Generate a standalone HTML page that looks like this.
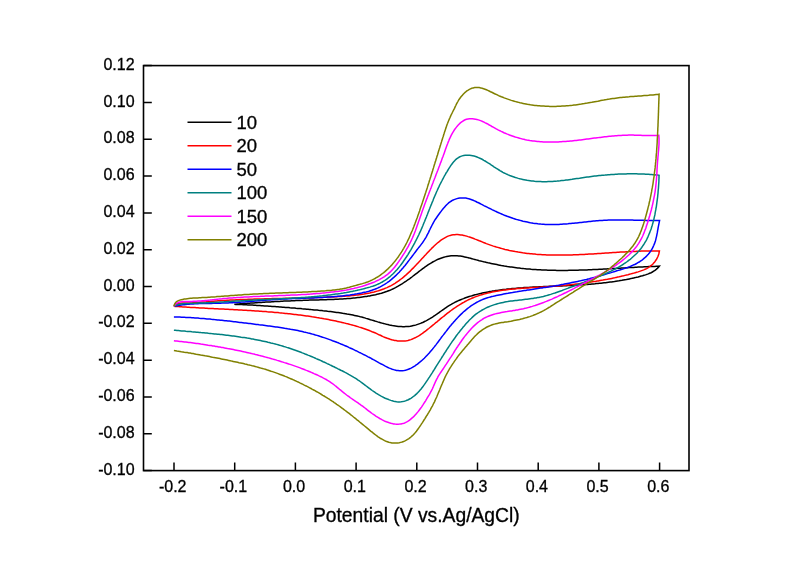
<!DOCTYPE html>
<html><head><meta charset="utf-8"><title>Cyclic voltammetry</title>
<style>html,body{margin:0;padding:0;background:#fff;}svg{display:block;will-change:transform;}</style>
</head><body>
<svg width="800" height="564" viewBox="0 0 800 564">
<rect width="800" height="564" fill="#fff"/>
<g fill="none" stroke-width="1.5" stroke-linejoin="miter" stroke-linecap="butt">
<path stroke="#000000" d="M234.3,304.3 235.8,304.2 237.3,304.1 238.8,304.0 240.3,303.8 241.8,303.7 243.3,303.6 244.8,303.5 246.3,303.4 247.8,303.3 249.3,303.2 250.8,303.1 252.4,303.0 253.9,302.9 255.4,302.8 256.9,302.7 258.4,302.6 259.9,302.5 261.4,302.4 262.9,302.3 264.4,302.2 265.9,302.1 267.4,302.0 268.9,302.0 270.4,301.9 271.9,301.8 273.4,301.7 274.9,301.6 276.4,301.5 277.9,301.5 279.4,301.4 281.0,301.3 282.5,301.2 284.0,301.1 285.5,301.1 287.0,301.0 288.5,300.9 290.0,300.9 291.5,300.8 293.0,300.7 294.5,300.7 296.0,300.6 297.5,300.5 299.0,300.5 300.5,300.4 302.1,300.4 303.6,300.3 305.1,300.3 306.6,300.2 308.1,300.2 309.6,300.1 311.1,300.1 312.6,300.0 314.1,300.0 315.6,300.0 317.1,299.9 318.6,299.9 320.1,299.8 321.6,299.8 323.2,299.8 324.7,299.7 326.2,299.7 327.7,299.6 329.2,299.6 330.7,299.5 332.2,299.5 333.7,299.4 335.2,299.3 336.7,299.3 338.2,299.2 339.7,299.1 341.2,299.0 342.7,298.9 344.2,298.8 345.8,298.7 347.3,298.6 348.8,298.5 350.3,298.4 351.8,298.2 353.3,298.1 354.8,298.0 356.3,297.8 357.8,297.6 359.3,297.4 360.8,297.2 362.3,297.0 363.7,296.8 365.2,296.6 366.7,296.4 368.2,296.1 369.7,295.9 371.2,295.6 372.7,295.3 374.1,295.0 375.6,294.7 377.1,294.3 378.5,293.9 380.0,293.6 381.5,293.2 382.9,292.7 384.3,292.3 385.8,291.8 387.2,291.3 388.6,290.7 390.0,290.2 391.4,289.6 392.7,289.0 394.1,288.3 395.5,287.6 396.8,286.9 398.1,286.2 399.4,285.4 400.7,284.6 402.0,283.9 403.3,283.0 404.5,282.2 405.8,281.4 407.0,280.5 408.2,279.6 409.5,278.8 410.7,277.9 411.9,277.0 413.1,276.0 414.3,275.1 415.5,274.2 416.7,273.3 417.9,272.4 419.1,271.4 420.3,270.5 421.5,269.6 422.7,268.7 423.9,267.8 425.1,266.9 426.3,266.1 427.6,265.2 428.8,264.4 430.1,263.6 431.4,262.8 432.7,262.0 434.0,261.3 435.4,260.6 436.7,259.9 438.1,259.3 439.5,258.7 440.9,258.2 442.3,257.7 443.8,257.3 445.2,256.9 446.7,256.5 448.2,256.2 449.7,256.0 451.1,255.8 452.7,255.7 454.2,255.7 455.7,255.7 457.2,255.8 458.7,255.9 460.2,256.1 461.7,256.3 463.1,256.6 464.6,256.9 466.1,257.2 467.6,257.6 469.0,257.9 470.5,258.3 471.9,258.7 473.4,259.1 474.8,259.5 476.3,259.9 477.8,260.3 479.2,260.7 480.7,261.0 482.1,261.4 483.6,261.8 485.1,262.1 486.5,262.4 488.0,262.8 489.5,263.1 491.0,263.4 492.4,263.7 493.9,264.0 495.4,264.3 496.9,264.6 498.4,264.9 499.8,265.2 501.3,265.5 502.8,265.7 504.3,266.0 505.8,266.2 507.3,266.5 508.8,266.7 510.3,266.9 511.7,267.1 513.2,267.3 514.7,267.5 516.2,267.7 517.7,267.9 519.2,268.1 520.7,268.3 522.2,268.4 523.7,268.6 525.2,268.7 526.7,268.9 528.2,269.0 529.7,269.1 531.2,269.3 532.7,269.4 534.2,269.5 535.7,269.6 537.3,269.7 538.8,269.8 540.3,269.8 541.8,269.9 543.3,270.0 544.8,270.1 546.3,270.1 547.8,270.2 549.3,270.2 550.8,270.2 552.3,270.3 553.8,270.3 555.3,270.3 556.8,270.4 558.4,270.4 559.9,270.4 561.4,270.4 562.9,270.4 564.4,270.4 565.9,270.4 567.4,270.4 568.9,270.3 570.4,270.3 571.9,270.3 573.4,270.3 574.9,270.2 576.4,270.2 578.0,270.2 579.5,270.1 581.0,270.1 582.5,270.0 584.0,270.0 585.5,269.9 587.0,269.9 588.5,269.8 590.0,269.7 591.5,269.7 593.0,269.6 594.5,269.5 596.0,269.5 597.5,269.4 599.1,269.3 600.6,269.2 602.1,269.2 603.6,269.1 605.1,269.0 606.6,268.9 608.1,268.8 609.6,268.8 611.1,268.7 612.6,268.6 614.1,268.5 615.6,268.4 617.1,268.3 618.6,268.2 620.1,268.2 621.6,268.1 623.1,268.0 624.7,267.9 626.2,267.8 627.7,267.7 629.2,267.6 630.7,267.5 632.2,267.5 633.7,267.4 635.2,267.3 636.7,267.2 638.2,267.1 639.7,267.1 641.2,267.0 642.7,266.9 644.2,266.8 645.7,266.8 647.2,266.7 648.8,266.6 650.3,266.5 651.8,266.5 653.3,266.4 654.8,266.4 656.3,266.3 657.8,266.3 659.3,266.2 L659.3,266.2 658.3,267.4 657.3,268.4 656.2,269.4 655.0,270.4 653.7,271.2 652.4,272.0 651.1,272.7 649.7,273.3 648.3,273.9 646.9,274.4 645.5,274.9 644.0,275.3 642.6,275.8 641.1,276.1 639.7,276.5 638.2,276.9 636.7,277.2 635.3,277.6 633.8,277.9 632.3,278.2 630.8,278.6 629.4,278.9 627.9,279.2 626.4,279.5 624.9,279.7 623.4,280.0 621.9,280.3 620.5,280.5 619.0,280.8 617.5,281.0 616.0,281.2 614.5,281.5 613.0,281.7 611.5,281.9 610.0,282.1 608.5,282.3 607.0,282.5 605.5,282.7 604.0,282.8 602.5,283.0 601.0,283.2 599.5,283.3 598.0,283.5 596.5,283.6 595.0,283.8 593.5,283.9 592.0,284.0 590.5,284.2 589.0,284.3 587.5,284.4 586.0,284.5 584.5,284.6 583.0,284.7 581.5,284.8 580.0,284.9 578.5,285.0 576.9,285.1 575.4,285.2 573.9,285.3 572.4,285.4 570.9,285.4 569.4,285.5 567.9,285.6 566.4,285.7 564.9,285.7 563.4,285.8 561.9,285.9 560.4,285.9 558.9,286.0 557.3,286.0 555.8,286.1 554.3,286.2 552.8,286.2 551.3,286.3 549.8,286.3 548.3,286.4 546.8,286.5 545.3,286.5 543.8,286.6 542.3,286.7 540.8,286.7 539.3,286.8 537.7,286.9 536.2,286.9 534.7,287.0 533.2,287.1 531.7,287.2 530.2,287.3 528.7,287.4 527.2,287.5 525.7,287.5 524.2,287.6 522.7,287.8 521.2,287.9 519.7,288.0 518.2,288.1 516.7,288.2 515.2,288.4 513.7,288.5 512.2,288.6 510.6,288.8 509.1,288.9 507.6,289.1 506.1,289.3 504.6,289.4 503.1,289.6 501.7,289.8 500.2,290.0 498.7,290.2 497.2,290.4 495.7,290.6 494.2,290.9 492.7,291.1 491.2,291.4 489.7,291.6 488.2,291.9 486.7,292.2 485.3,292.5 483.8,292.8 482.3,293.1 480.8,293.4 479.4,293.7 477.9,294.1 476.4,294.5 475.0,294.8 473.5,295.2 472.1,295.7 470.6,296.1 469.2,296.5 467.8,297.0 466.3,297.5 464.9,298.0 463.5,298.6 462.1,299.1 460.7,299.7 459.3,300.3 457.9,300.9 456.6,301.5 455.2,302.2 453.9,302.9 452.5,303.6 451.2,304.4 449.9,305.1 448.6,305.9 447.4,306.7 446.1,307.6 444.9,308.4 443.6,309.3 442.4,310.2 441.2,311.0 439.9,311.9 438.7,312.8 437.5,313.7 436.2,314.5 435.0,315.4 433.8,316.2 432.5,317.1 431.2,317.9 429.9,318.7 428.6,319.4 427.3,320.2 426.0,320.9 424.6,321.5 423.3,322.2 421.9,322.8 420.5,323.4 419.1,323.9 417.7,324.4 416.2,324.9 414.8,325.3 413.3,325.6 411.8,325.9 410.3,326.2 408.8,326.4 407.3,326.5 405.8,326.6 404.3,326.7 402.8,326.7 401.3,326.6 399.8,326.5 398.3,326.4 396.8,326.2 395.3,326.0 393.8,325.8 392.3,325.6 390.8,325.3 389.4,325.0 387.9,324.6 386.4,324.3 385.0,323.9 383.5,323.5 382.0,323.1 380.6,322.7 379.1,322.3 377.7,321.9 376.2,321.4 374.8,321.0 373.4,320.5 371.9,320.1 370.5,319.7 369.0,319.2 367.6,318.8 366.1,318.4 364.7,317.9 363.2,317.5 361.8,317.1 360.3,316.8 358.9,316.4 357.4,316.0 355.9,315.7 354.4,315.4 353.0,315.1 351.5,314.8 350.0,314.5 348.5,314.2 347.0,314.0 345.5,313.7 344.0,313.5 342.6,313.3 341.1,313.0 339.6,312.8 338.1,312.6 336.6,312.4 335.1,312.2 333.6,312.0 332.1,311.8 330.6,311.6 329.1,311.4 327.6,311.3 326.1,311.1 324.6,310.9 323.1,310.8 321.6,310.6 320.1,310.4 318.6,310.3 317.1,310.1 315.6,310.0 314.1,309.9 312.6,309.7 311.1,309.6 309.6,309.4 308.1,309.3 306.6,309.2 305.1,309.0 303.6,308.9 302.1,308.8 300.6,308.6 299.1,308.5 297.6,308.4 296.0,308.3 294.5,308.1 293.0,308.0 291.5,307.9 290.0,307.8 288.5,307.6 287.0,307.5 285.5,307.4 284.0,307.3 282.5,307.2 281.0,307.0 279.5,306.9 278.0,306.8 276.5,306.7 275.0,306.6 273.5,306.5 272.0,306.4 270.5,306.3 269.0,306.2 267.5,306.1 265.9,306.0 264.4,305.9 262.9,305.8 261.4,305.7 259.9,305.6 258.4,305.5 256.9,305.4 255.4,305.3 253.9,305.2 252.4,305.1 250.9,305.0 249.4,305.0 247.9,304.9 246.4,304.8 244.9,304.7 243.3,304.7 241.8,304.6 240.3,304.5 238.8,304.5 237.3,304.4 235.8,304.4 234.3,304.3"/>
<path stroke="#ff0000" d="M174.0,306.3 175.1,305.2 176.3,304.4 177.7,303.8 179.1,303.4 180.6,303.2 182.1,303.1 183.6,303.1 185.1,303.1 186.6,303.1 188.2,303.0 189.7,302.9 191.2,302.9 192.7,302.8 194.2,302.7 195.7,302.6 197.2,302.5 198.7,302.4 200.2,302.2 201.7,302.1 203.2,302.0 204.7,301.9 206.2,301.8 207.7,301.6 209.2,301.5 210.7,301.4 212.2,301.3 213.7,301.2 215.2,301.0 216.7,300.9 218.2,300.8 219.7,300.7 221.2,300.6 222.7,300.5 224.2,300.5 225.7,300.4 227.2,300.3 228.7,300.2 230.2,300.1 231.7,300.0 233.2,300.0 234.7,299.9 236.2,299.8 237.7,299.8 239.2,299.7 240.7,299.6 242.2,299.6 243.7,299.5 245.2,299.4 246.7,299.4 248.2,299.3 249.7,299.3 251.2,299.2 252.7,299.2 254.2,299.1 255.7,299.1 257.2,299.0 258.7,299.0 260.2,298.9 261.8,298.9 263.3,298.9 264.8,298.8 266.3,298.8 267.8,298.7 269.3,298.7 270.8,298.7 272.3,298.6 273.8,298.6 275.3,298.6 276.8,298.5 278.3,298.5 279.8,298.5 281.3,298.4 282.8,298.4 284.3,298.4 285.8,298.3 287.3,298.3 288.8,298.3 290.3,298.2 291.8,298.2 293.3,298.2 294.8,298.1 296.3,298.1 297.9,298.1 299.4,298.0 300.9,298.0 302.4,297.9 303.9,297.9 305.4,297.9 306.9,297.8 308.4,297.8 309.9,297.7 311.4,297.7 312.9,297.7 314.4,297.6 315.9,297.6 317.4,297.5 318.9,297.5 320.4,297.4 321.9,297.4 323.4,297.3 324.9,297.2 326.4,297.2 327.9,297.1 329.4,297.1 330.9,297.0 332.4,296.9 333.9,296.9 335.4,296.8 336.9,296.7 338.4,296.6 339.9,296.5 341.5,296.4 343.0,296.3 344.5,296.2 346.0,296.1 347.5,296.0 349.0,295.9 350.4,295.7 351.9,295.6 353.4,295.4 354.9,295.3 356.4,295.1 357.9,294.9 359.4,294.7 360.9,294.5 362.4,294.2 363.9,294.0 365.4,293.7 366.8,293.5 368.3,293.2 369.8,292.9 371.3,292.5 372.7,292.2 374.2,291.9 375.6,291.5 377.1,291.1 378.5,290.7 380.0,290.2 381.4,289.7 382.8,289.2 384.2,288.7 385.6,288.1 387.0,287.6 388.4,286.9 389.7,286.3 391.1,285.6 392.4,284.9 393.7,284.1 395.0,283.3 396.2,282.5 397.5,281.7 398.7,280.8 399.9,279.9 401.1,279.0 402.3,278.1 403.5,277.1 404.6,276.1 405.8,275.2 406.9,274.1 408.0,273.1 409.1,272.1 410.2,271.1 411.2,270.0 412.3,268.9 413.4,267.9 414.4,266.8 415.4,265.7 416.5,264.6 417.5,263.5 418.5,262.4 419.6,261.3 420.6,260.2 421.6,259.1 422.6,258.0 423.6,256.9 424.6,255.8 425.7,254.7 426.7,253.6 427.7,252.5 428.8,251.4 429.8,250.3 430.9,249.2 431.9,248.1 433.0,247.1 434.1,246.0 435.2,245.0 436.3,244.0 437.4,243.0 438.6,242.1 439.8,241.1 441.0,240.2 442.2,239.4 443.5,238.6 444.8,237.8 446.1,237.1 447.4,236.4 448.8,235.9 450.3,235.4 451.7,235.1 453.2,234.8 454.7,234.7 456.2,234.6 457.7,234.6 459.2,234.7 460.7,234.9 462.2,235.1 463.7,235.4 465.2,235.8 466.6,236.1 468.1,236.6 469.5,237.0 470.9,237.5 472.3,238.0 473.7,238.5 475.1,239.1 476.5,239.6 477.9,240.2 479.3,240.8 480.7,241.3 482.1,241.9 483.5,242.5 484.9,243.0 486.3,243.6 487.7,244.1 489.1,244.6 490.5,245.1 492.0,245.6 493.4,246.1 494.8,246.5 496.3,247.0 497.7,247.4 499.2,247.8 500.6,248.2 502.1,248.6 503.5,249.0 505.0,249.4 506.4,249.7 507.9,250.0 509.4,250.4 510.8,250.7 512.3,251.0 513.8,251.3 515.3,251.6 516.8,251.8 518.2,252.1 519.7,252.3 521.2,252.5 522.7,252.8 524.2,253.0 525.7,253.2 527.2,253.4 528.7,253.5 530.2,253.7 531.7,253.8 533.2,254.0 534.7,254.1 536.2,254.3 537.7,254.4 539.2,254.5 540.7,254.6 542.2,254.7 543.7,254.7 545.2,254.8 546.7,254.9 548.2,254.9 549.7,255.0 551.2,255.0 552.7,255.1 554.2,255.1 555.7,255.1 557.2,255.1 558.7,255.1 560.2,255.1 561.7,255.1 563.2,255.1 564.7,255.1 566.2,255.0 567.7,255.0 569.2,255.0 570.7,254.9 572.2,254.9 573.7,254.8 575.2,254.8 576.8,254.7 578.3,254.7 579.8,254.6 581.3,254.5 582.8,254.5 584.3,254.4 585.8,254.3 587.3,254.2 588.8,254.1 590.3,254.1 591.8,254.0 593.3,253.9 594.8,253.8 596.3,253.7 597.8,253.6 599.3,253.5 600.8,253.4 602.3,253.3 603.8,253.2 605.3,253.1 606.8,253.0 608.3,252.9 609.8,252.8 611.3,252.7 612.8,252.6 614.3,252.5 615.8,252.4 617.3,252.3 618.8,252.2 620.3,252.1 621.8,252.1 623.3,252.0 624.8,251.9 626.3,251.8 627.8,251.7 629.3,251.6 630.8,251.6 632.3,251.5 633.8,251.4 635.3,251.4 636.8,251.3 638.3,251.2 639.8,251.2 641.3,251.1 642.9,251.1 644.4,251.1 645.9,251.0 647.4,251.0 648.9,251.0 650.4,251.0 651.9,251.0 653.4,251.0 654.9,251.0 656.4,251.0 657.9,251.0 659.4,251.0 L659.4,251.0 659.1,252.5 658.8,254.0 658.3,255.4 657.8,256.8 657.1,258.2 656.4,259.5 655.6,260.7 654.7,262.0 653.7,263.1 652.7,264.2 651.6,265.2 650.4,266.2 649.2,267.0 647.9,267.9 646.6,268.6 645.2,269.2 643.8,269.9 642.4,270.4 641.0,270.9 639.6,271.4 638.1,271.9 636.7,272.3 635.2,272.7 633.8,273.1 632.3,273.5 630.9,273.9 629.4,274.3 628.0,274.7 626.5,275.0 625.0,275.4 623.6,275.8 622.1,276.1 620.6,276.4 619.2,276.8 617.7,277.1 616.2,277.4 614.7,277.8 613.3,278.1 611.8,278.4 610.3,278.7 608.8,279.0 607.4,279.3 605.9,279.5 604.4,279.8 602.9,280.1 601.4,280.3 599.9,280.6 598.4,280.9 597.0,281.1 595.5,281.4 594.0,281.6 592.5,281.8 591.0,282.0 589.5,282.3 588.0,282.5 586.5,282.7 585.0,282.9 583.5,283.1 582.0,283.3 580.5,283.5 579.0,283.7 577.5,283.9 576.0,284.0 574.5,284.2 573.0,284.4 571.5,284.6 570.0,284.7 568.5,284.9 567.0,285.0 565.5,285.2 564.0,285.3 562.5,285.5 561.0,285.6 559.5,285.7 558.0,285.9 556.5,286.0 555.0,286.1 553.5,286.2 552.0,286.4 550.5,286.5 549.0,286.6 547.5,286.7 546.0,286.8 544.5,286.9 543.0,287.0 541.5,287.1 540.0,287.2 538.5,287.3 537.0,287.4 535.5,287.5 534.0,287.5 532.5,287.6 530.9,287.7 529.4,287.8 527.9,287.9 526.4,288.0 524.9,288.1 523.4,288.2 521.9,288.3 520.4,288.4 518.9,288.5 517.4,288.6 515.9,288.8 514.4,288.9 512.9,289.0 511.4,289.2 509.9,289.3 508.4,289.5 506.9,289.7 505.4,289.9 503.9,290.1 502.4,290.3 500.9,290.5 499.4,290.7 497.9,291.0 496.4,291.2 495.0,291.5 493.5,291.8 492.0,292.1 490.5,292.4 489.1,292.7 487.6,293.1 486.1,293.5 484.7,293.9 483.2,294.3 481.8,294.7 480.3,295.1 478.9,295.6 477.5,296.1 476.0,296.6 474.6,297.1 473.2,297.7 471.8,298.3 470.5,298.9 469.1,299.5 467.7,300.1 466.4,300.8 465.1,301.5 463.7,302.3 462.4,303.0 461.1,303.8 459.8,304.6 458.6,305.4 457.3,306.2 456.0,307.0 454.8,307.9 453.6,308.7 452.3,309.6 451.1,310.5 449.9,311.4 448.7,312.3 447.5,313.2 446.3,314.2 445.1,315.1 444.0,316.1 442.8,317.0 441.6,317.9 440.4,318.9 439.3,319.9 438.1,320.8 437.0,321.8 435.8,322.7 434.6,323.7 433.5,324.7 432.3,325.6 431.1,326.6 430.0,327.5 428.8,328.5 427.6,329.4 426.4,330.4 425.2,331.3 424.0,332.2 422.8,333.1 421.6,334.0 420.3,334.8 419.1,335.6 417.8,336.4 416.4,337.1 415.1,337.8 413.7,338.4 412.4,339.0 410.9,339.6 409.5,340.0 408.0,340.4 406.6,340.7 405.1,340.9 403.6,341.1 402.1,341.1 400.6,341.1 399.0,341.0 397.5,340.9 396.1,340.6 394.6,340.4 393.1,340.1 391.6,339.7 390.2,339.3 388.8,338.8 387.3,338.3 385.9,337.7 384.5,337.2 383.1,336.6 381.8,336.0 380.4,335.3 379.0,334.7 377.7,334.1 376.3,333.4 374.9,332.8 373.5,332.2 372.1,331.7 370.7,331.1 369.3,330.5 367.9,330.0 366.5,329.5 365.1,329.0 363.6,328.5 362.2,328.0 360.8,327.5 359.3,327.1 357.9,326.6 356.5,326.2 355.0,325.8 353.6,325.4 352.1,325.0 350.6,324.6 349.2,324.2 347.7,323.8 346.3,323.5 344.8,323.1 343.3,322.7 341.9,322.4 340.4,322.1 338.9,321.7 337.4,321.4 336.0,321.1 334.5,320.8 333.0,320.5 331.5,320.2 330.1,319.9 328.6,319.6 327.1,319.3 325.6,319.0 324.1,318.8 322.6,318.5 321.2,318.2 319.7,318.0 318.2,317.7 316.7,317.5 315.2,317.2 313.7,317.0 312.2,316.8 310.7,316.5 309.2,316.3 307.8,316.1 306.3,315.9 304.8,315.7 303.3,315.5 301.8,315.3 300.3,315.1 298.8,314.9 297.3,314.7 295.8,314.5 294.3,314.4 292.8,314.2 291.3,314.0 289.8,313.8 288.3,313.7 286.8,313.5 285.3,313.4 283.8,313.2 282.3,313.1 280.8,312.9 279.3,312.8 277.8,312.6 276.3,312.5 274.8,312.4 273.3,312.2 271.8,312.1 270.3,312.0 268.8,311.9 267.3,311.8 265.8,311.6 264.3,311.5 262.8,311.4 261.2,311.3 259.7,311.2 258.2,311.1 256.7,311.0 255.2,310.9 253.7,310.8 252.2,310.7 250.7,310.6 249.2,310.5 247.7,310.4 246.2,310.3 244.7,310.2 243.2,310.2 241.7,310.1 240.2,310.0 238.7,309.9 237.2,309.8 235.7,309.7 234.1,309.7 232.6,309.6 231.1,309.5 229.6,309.4 228.1,309.3 226.6,309.3 225.1,309.2 223.6,309.1 222.1,309.0 220.6,309.0 219.1,308.9 217.6,308.8 216.1,308.7 214.6,308.7 213.1,308.6 211.5,308.5 210.0,308.4 208.5,308.4 207.0,308.3 205.5,308.2 204.0,308.1 202.5,308.0 201.0,308.0 199.5,307.9 198.0,307.8 196.5,307.7 195.0,307.6 193.5,307.5 192.0,307.5 190.5,307.4 189.0,307.3 187.4,307.2 185.9,307.1 184.4,307.0 182.9,306.9 181.4,306.8 179.9,306.7 178.4,306.6 176.9,306.5 175.4,306.4 173.9,306.3"/>
<path stroke="#0000ff" d="M174.0,306.3 175.5,306.0 177.0,305.7 178.4,305.5 179.9,305.2 181.4,305.0 182.9,304.8 184.4,304.7 185.9,304.5 187.4,304.3 188.9,304.2 190.4,304.1 191.9,304.0 193.4,303.9 194.9,303.8 196.4,303.7 197.9,303.7 199.4,303.6 200.9,303.6 202.4,303.5 204.0,303.5 205.5,303.5 207.0,303.4 208.5,303.4 210.0,303.4 211.5,303.4 213.0,303.3 214.5,303.3 216.0,303.3 217.5,303.3 219.0,303.2 220.5,303.2 222.0,303.1 223.5,303.1 225.0,303.0 226.5,303.0 228.0,302.9 229.6,302.8 231.1,302.8 232.6,302.7 234.1,302.6 235.6,302.5 237.1,302.4 238.6,302.3 240.1,302.2 241.6,302.1 243.1,302.0 244.6,301.9 246.1,301.8 247.6,301.7 249.1,301.6 250.6,301.4 252.1,301.3 253.6,301.2 255.1,301.1 256.6,301.0 258.1,300.8 259.6,300.7 261.1,300.6 262.6,300.5 264.1,300.4 265.6,300.2 267.1,300.1 268.6,300.0 270.1,299.9 271.6,299.8 273.1,299.7 274.6,299.6 276.1,299.5 277.6,299.4 279.1,299.3 280.6,299.2 282.1,299.1 283.6,299.0 285.1,299.0 286.7,298.9 288.2,298.8 289.7,298.8 291.2,298.7 292.7,298.6 294.2,298.6 295.7,298.5 297.2,298.5 298.7,298.4 300.2,298.4 301.7,298.3 303.2,298.3 304.7,298.2 306.2,298.1 307.7,298.1 309.2,298.0 310.7,298.0 312.2,297.9 313.7,297.9 315.2,297.8 316.8,297.7 318.3,297.6 319.8,297.6 321.3,297.5 322.8,297.4 324.3,297.3 325.8,297.2 327.3,297.1 328.8,297.0 330.3,296.9 331.8,296.8 333.3,296.7 334.8,296.6 336.3,296.5 337.8,296.3 339.3,296.2 340.8,296.0 342.3,295.9 343.8,295.7 345.3,295.5 346.8,295.3 348.3,295.2 349.8,295.0 351.3,294.7 352.7,294.5 354.2,294.3 355.7,294.0 357.2,293.8 358.7,293.5 360.2,293.2 361.6,293.0 363.1,292.6 364.6,292.3 366.1,292.0 367.5,291.6 369.0,291.2 370.4,290.7 371.8,290.3 373.3,289.8 374.7,289.3 376.1,288.7 377.5,288.1 378.8,287.5 380.2,286.9 381.5,286.2 382.8,285.4 384.1,284.7 385.4,283.9 386.7,283.0 387.9,282.1 389.1,281.3 390.3,280.3 391.5,279.4 392.6,278.4 393.8,277.4 394.9,276.4 396.0,275.4 397.1,274.3 398.1,273.3 399.2,272.2 400.2,271.1 401.2,270.0 402.2,268.8 403.2,267.7 404.1,266.5 405.1,265.4 406.0,264.2 407.0,263.0 407.9,261.8 408.8,260.6 409.7,259.4 410.6,258.2 411.6,257.0 412.5,255.8 413.4,254.6 414.3,253.4 415.2,252.2 416.1,251.0 417.0,249.8 417.9,248.6 418.8,247.4 419.8,246.3 420.7,245.1 421.6,243.9 422.5,242.7 423.4,241.4 424.2,240.2 425.0,238.9 425.8,237.6 426.5,236.3 427.2,234.9 427.9,233.6 428.6,232.3 429.2,230.9 429.9,229.5 430.5,228.2 431.2,226.8 431.9,225.5 432.6,224.2 433.3,222.8 434.0,221.5 434.8,220.2 435.6,219.0 436.5,217.7 437.3,216.5 438.2,215.2 439.1,214.0 440.0,212.8 440.9,211.6 441.8,210.4 442.7,209.2 443.7,208.1 444.7,206.9 445.7,205.8 446.7,204.7 447.8,203.7 448.9,202.7 450.1,201.8 451.4,201.0 452.7,200.2 454.1,199.6 455.5,199.1 456.9,198.6 458.4,198.3 459.9,198.1 461.4,197.9 462.9,197.9 464.4,198.0 465.9,198.1 467.4,198.4 468.8,198.8 470.3,199.2 471.7,199.7 473.1,200.3 474.5,200.9 475.9,201.5 477.2,202.2 478.6,202.8 479.9,203.5 481.2,204.2 482.6,204.9 483.9,205.6 485.3,206.3 486.6,206.9 488.0,207.6 489.3,208.3 490.7,208.9 492.0,209.6 493.4,210.3 494.7,210.9 496.1,211.5 497.5,212.2 498.8,212.8 500.2,213.4 501.6,214.0 503.0,214.6 504.4,215.2 505.8,215.7 507.2,216.3 508.6,216.8 510.0,217.3 511.4,217.8 512.9,218.3 514.3,218.7 515.7,219.2 517.2,219.6 518.6,220.0 520.1,220.4 521.5,220.8 523.0,221.2 524.5,221.5 525.9,221.8 527.4,222.1 528.9,222.4 530.4,222.7 531.9,222.9 533.3,223.2 534.8,223.4 536.3,223.6 537.8,223.8 539.3,223.9 540.8,224.1 542.3,224.2 543.8,224.3 545.3,224.4 546.8,224.5 548.3,224.5 549.8,224.6 551.3,224.6 552.9,224.6 554.4,224.5 555.9,224.5 557.4,224.5 558.9,224.4 560.4,224.3 561.9,224.2 563.4,224.1 564.9,224.0 566.4,223.9 567.9,223.8 569.4,223.6 570.9,223.5 572.4,223.3 573.9,223.2 575.4,223.0 576.9,222.9 578.4,222.7 579.9,222.5 581.4,222.4 582.9,222.2 584.4,222.0 585.9,221.9 587.4,221.7 588.9,221.5 590.4,221.4 591.9,221.2 593.4,221.1 594.9,221.0 596.4,220.8 597.9,220.7 599.4,220.6 600.9,220.5 602.4,220.4 603.9,220.3 605.4,220.3 606.9,220.2 608.4,220.1 609.9,220.1 611.4,220.1 612.9,220.0 614.4,220.0 615.9,220.0 617.4,220.0 618.9,220.0 620.4,220.0 621.9,220.0 623.5,220.0 625.0,220.0 626.5,220.0 628.0,220.1 629.5,220.1 631.0,220.1 632.5,220.1 634.0,220.2 635.5,220.2 637.0,220.2 638.5,220.2 640.0,220.3 641.5,220.3 643.0,220.3 644.5,220.3 646.0,220.4 647.5,220.4 649.1,220.4 650.6,220.4 652.1,220.4 653.6,220.4 655.1,220.4 656.6,220.4 658.1,220.4 659.6,220.4 L659.6,220.4 659.3,221.9 659.0,223.3 658.7,224.8 658.4,226.3 658.1,227.8 657.9,229.3 657.6,230.7 657.4,232.2 657.1,233.7 656.8,235.2 656.5,236.6 656.1,238.1 655.8,239.6 655.4,241.0 654.9,242.5 654.4,243.9 653.8,245.3 653.2,246.6 652.6,248.0 651.8,249.3 651.0,250.6 650.2,251.8 649.3,253.0 648.3,254.2 647.3,255.3 646.3,256.4 645.2,257.4 644.0,258.4 642.9,259.4 641.7,260.3 640.4,261.1 639.2,262.0 637.9,262.7 636.6,263.5 635.3,264.2 633.9,264.8 632.5,265.4 631.2,266.0 629.8,266.6 628.4,267.1 626.9,267.7 625.5,268.1 624.1,268.6 622.7,269.1 621.2,269.5 619.8,270.0 618.3,270.4 616.9,270.8 615.5,271.3 614.0,271.7 612.6,272.1 611.1,272.6 609.7,273.0 608.3,273.4 606.8,273.9 605.4,274.3 603.9,274.7 602.5,275.1 601.0,275.6 599.6,276.0 598.2,276.4 596.7,276.8 595.2,277.2 593.8,277.6 592.3,277.9 590.9,278.3 589.4,278.7 588.0,279.0 586.5,279.4 585.0,279.7 583.6,280.1 582.1,280.4 580.6,280.8 579.2,281.1 577.7,281.4 576.2,281.7 574.8,282.0 573.3,282.3 571.8,282.6 570.3,282.9 568.9,283.2 567.4,283.5 565.9,283.8 564.4,284.1 563.0,284.4 561.5,284.6 560.0,284.9 558.5,285.2 557.0,285.4 555.5,285.7 554.1,285.9 552.6,286.2 551.1,286.4 549.6,286.7 548.1,286.9 546.6,287.2 545.2,287.4 543.7,287.6 542.2,287.9 540.7,288.1 539.2,288.3 537.7,288.6 536.2,288.8 534.8,289.0 533.3,289.2 531.8,289.5 530.3,289.7 528.8,289.9 527.3,290.1 525.8,290.4 524.3,290.6 522.9,290.8 521.4,291.1 519.9,291.3 518.4,291.5 516.9,291.8 515.4,292.0 513.9,292.2 512.5,292.5 511.0,292.7 509.5,293.0 508.0,293.3 506.5,293.5 505.1,293.8 503.6,294.1 502.1,294.4 500.6,294.7 499.1,295.0 497.7,295.3 496.2,295.6 494.7,295.9 493.3,296.3 491.8,296.6 490.4,297.0 488.9,297.4 487.5,297.8 486.0,298.3 484.6,298.8 483.2,299.3 481.8,299.9 480.4,300.5 479.1,301.1 477.7,301.8 476.4,302.5 475.1,303.3 473.8,304.1 472.6,304.9 471.3,305.7 470.1,306.6 468.9,307.5 467.7,308.4 466.5,309.4 465.4,310.3 464.2,311.3 463.1,312.3 462.0,313.4 460.9,314.4 459.9,315.4 458.8,316.5 457.8,317.6 456.7,318.7 455.7,319.8 454.7,320.9 453.7,322.0 452.7,323.2 451.7,324.3 450.8,325.5 449.8,326.6 448.9,327.8 447.9,329.0 447.0,330.2 446.1,331.4 445.2,332.5 444.3,333.7 443.4,334.9 442.4,336.1 441.5,337.3 440.6,338.6 439.7,339.8 438.8,341.0 437.9,342.2 437.0,343.4 436.1,344.6 435.2,345.7 434.3,346.9 433.3,348.1 432.4,349.3 431.4,350.4 430.4,351.6 429.5,352.7 428.5,353.8 427.4,354.9 426.4,356.0 425.4,357.1 424.3,358.2 423.2,359.2 422.1,360.2 421.0,361.2 419.8,362.2 418.6,363.1 417.5,364.1 416.2,364.9 415.0,365.8 413.7,366.6 412.4,367.4 411.1,368.1 409.7,368.7 408.4,369.3 406.9,369.8 405.5,370.2 404.0,370.5 402.5,370.7 401.0,370.8 399.5,370.8 398.0,370.6 396.5,370.4 395.1,370.1 393.6,369.6 392.2,369.2 390.8,368.6 389.4,368.1 388.0,367.5 386.7,366.8 385.3,366.1 384.0,365.4 382.7,364.7 381.3,364.0 380.0,363.3 378.7,362.6 377.4,361.8 376.1,361.1 374.8,360.4 373.4,359.7 372.1,359.0 370.8,358.2 369.5,357.5 368.1,356.8 366.8,356.1 365.5,355.4 364.1,354.8 362.8,354.1 361.4,353.4 360.1,352.7 358.7,352.1 357.4,351.4 356.0,350.7 354.7,350.1 353.3,349.4 352.0,348.8 350.6,348.2 349.2,347.6 347.9,346.9 346.5,346.3 345.1,345.7 343.7,345.1 342.3,344.5 340.9,344.0 339.5,343.4 338.2,342.8 336.8,342.3 335.4,341.7 334.0,341.2 332.5,340.7 331.1,340.1 329.7,339.6 328.3,339.1 326.9,338.6 325.5,338.1 324.0,337.6 322.6,337.2 321.2,336.7 319.7,336.3 318.3,335.8 316.9,335.4 315.4,335.0 314.0,334.5 312.5,334.1 311.1,333.7 309.6,333.3 308.2,333.0 306.7,332.6 305.2,332.2 303.8,331.9 302.3,331.5 300.9,331.2 299.4,330.9 297.9,330.6 296.4,330.3 295.0,330.0 293.5,329.7 292.0,329.4 290.5,329.2 289.0,328.9 287.6,328.7 286.1,328.4 284.6,328.2 283.1,327.9 281.6,327.7 280.1,327.5 278.6,327.3 277.1,327.1 275.7,326.9 274.2,326.7 272.7,326.5 271.2,326.3 269.7,326.1 268.2,325.9 266.7,325.7 265.2,325.5 263.7,325.3 262.2,325.1 260.7,324.9 259.2,324.8 257.8,324.6 256.3,324.4 254.8,324.2 253.3,324.0 251.8,323.8 250.3,323.6 248.8,323.5 247.3,323.3 245.8,323.1 244.3,322.9 242.8,322.7 241.3,322.5 239.8,322.4 238.3,322.2 236.9,322.0 235.4,321.8 233.9,321.7 232.4,321.5 230.9,321.3 229.4,321.1 227.9,321.0 226.4,320.8 224.9,320.7 223.4,320.5 221.9,320.3 220.4,320.2 218.9,320.0 217.4,319.9 215.9,319.7 214.4,319.6 212.9,319.4 211.4,319.3 209.9,319.1 208.4,319.0 206.9,318.9 205.4,318.7 203.9,318.6 202.4,318.5 200.9,318.4 199.4,318.3 197.9,318.1 196.4,318.0 194.9,317.9 193.4,317.8 191.9,317.7 190.4,317.6 188.9,317.5 187.4,317.5 185.9,317.4 184.4,317.3 182.9,317.2 181.4,317.2 179.9,317.1 178.4,317.0 176.9,317.0 175.4,316.9 173.9,316.9"/>
<path stroke="#008080" d="M174.0,306.3 175.3,305.6 176.7,305.0 178.2,304.5 179.6,304.2 181.1,303.9 182.6,303.7 184.1,303.6 185.6,303.5 187.1,303.4 188.6,303.4 190.1,303.3 191.6,303.3 193.1,303.3 194.6,303.2 196.1,303.2 197.6,303.1 199.1,303.1 200.6,303.0 202.2,303.0 203.7,302.9 205.2,302.9 206.7,302.8 208.2,302.7 209.7,302.6 211.2,302.6 212.7,302.5 214.2,302.4 215.7,302.3 217.2,302.3 218.7,302.2 220.2,302.1 221.7,302.0 223.2,301.9 224.7,301.8 226.2,301.7 227.7,301.6 229.2,301.5 230.7,301.4 232.2,301.3 233.7,301.2 235.2,301.1 236.7,301.1 238.3,301.0 239.8,300.9 241.3,300.8 242.8,300.7 244.3,300.6 245.8,300.5 247.3,300.4 248.8,300.3 250.3,300.2 251.8,300.2 253.3,300.1 254.8,300.0 256.3,299.9 257.8,299.8 259.3,299.8 260.8,299.7 262.3,299.6 263.8,299.6 265.3,299.5 266.8,299.4 268.3,299.3 269.8,299.3 271.3,299.2 272.9,299.1 274.4,299.1 275.9,299.0 277.4,298.9 278.9,298.8 280.4,298.8 281.9,298.7 283.4,298.6 284.9,298.5 286.4,298.5 287.9,298.4 289.4,298.3 290.9,298.2 292.4,298.1 293.9,298.1 295.4,298.0 296.9,297.9 298.4,297.8 299.9,297.7 301.4,297.6 302.9,297.5 304.4,297.4 305.9,297.3 307.4,297.2 308.9,297.0 310.4,296.9 311.9,296.8 313.4,296.7 314.9,296.5 316.4,296.4 317.9,296.2 319.4,296.1 320.9,295.9 322.4,295.8 323.9,295.6 325.4,295.5 326.9,295.3 328.4,295.1 329.9,294.9 331.4,294.7 332.9,294.5 334.4,294.3 335.9,294.1 337.4,293.9 338.9,293.7 340.4,293.5 341.9,293.2 343.3,293.0 344.8,292.7 346.3,292.5 347.8,292.2 349.3,291.9 350.8,291.6 352.2,291.4 353.7,291.1 355.2,290.8 356.7,290.4 358.1,290.1 359.6,289.8 361.1,289.4 362.5,289.1 364.0,288.7 365.4,288.3 366.9,287.9 368.3,287.5 369.8,287.1 371.2,286.6 372.7,286.2 374.1,285.7 375.5,285.2 376.9,284.6 378.3,284.0 379.7,283.4 381.0,282.7 382.3,282.0 383.6,281.2 384.9,280.4 386.1,279.6 387.4,278.7 388.5,277.7 389.7,276.8 390.9,275.8 392.0,274.8 393.1,273.8 394.1,272.7 395.2,271.6 396.2,270.5 397.2,269.4 398.2,268.2 399.1,267.1 400.1,265.9 401.0,264.7 401.9,263.5 402.8,262.3 403.6,261.0 404.5,259.8 405.3,258.5 406.2,257.3 407.0,256.0 407.8,254.8 408.6,253.5 409.4,252.2 410.2,250.9 411.0,249.6 411.7,248.3 412.5,247.0 413.2,245.7 413.9,244.4 414.6,243.1 415.3,241.7 416.0,240.4 416.7,239.0 417.4,237.7 418.0,236.3 418.7,235.0 419.3,233.6 420.0,232.2 420.6,230.9 421.2,229.5 421.8,228.1 422.4,226.7 423.0,225.3 423.5,223.9 424.1,222.5 424.7,221.2 425.2,219.8 425.8,218.4 426.4,217.0 426.9,215.6 427.5,214.2 428.0,212.8 428.6,211.4 429.1,210.0 429.7,208.6 430.2,207.2 430.8,205.8 431.4,204.4 431.9,203.0 432.5,201.6 433.1,200.2 433.6,198.8 434.2,197.4 434.8,196.0 435.4,194.6 436.0,193.2 436.6,191.8 437.2,190.5 437.8,189.1 438.5,187.7 439.1,186.4 439.7,185.0 440.4,183.7 441.1,182.3 441.8,181.0 442.5,179.6 443.2,178.3 443.9,177.0 444.6,175.7 445.4,174.3 446.1,173.0 446.9,171.8 447.7,170.5 448.5,169.2 449.3,167.9 450.1,166.7 450.9,165.4 451.8,164.2 452.7,163.0 453.7,161.8 454.7,160.7 455.7,159.6 456.9,158.6 458.1,157.8 459.4,157.0 460.8,156.4 462.2,155.9 463.7,155.5 465.2,155.3 466.7,155.2 468.2,155.2 469.7,155.3 471.2,155.5 472.6,155.8 474.1,156.1 475.6,156.5 477.0,157.0 478.4,157.6 479.8,158.2 481.1,158.8 482.5,159.5 483.8,160.3 485.1,161.0 486.4,161.8 487.6,162.6 488.9,163.4 490.2,164.2 491.4,165.1 492.7,165.9 493.9,166.8 495.2,167.6 496.4,168.4 497.7,169.2 499.0,170.0 500.3,170.8 501.6,171.5 502.9,172.3 504.2,173.0 505.6,173.6 507.0,174.3 508.3,174.9 509.7,175.5 511.1,176.0 512.5,176.5 514.0,177.0 515.4,177.5 516.8,177.9 518.3,178.4 519.7,178.7 521.2,179.1 522.7,179.4 524.1,179.7 525.6,180.0 527.1,180.3 528.6,180.5 530.1,180.7 531.6,180.9 533.1,181.1 534.6,181.3 536.1,181.4 537.6,181.5 539.1,181.6 540.6,181.6 542.1,181.7 543.6,181.7 545.1,181.7 546.6,181.7 548.1,181.6 549.6,181.6 551.1,181.5 552.6,181.4 554.1,181.3 555.6,181.2 557.1,181.1 558.6,180.9 560.1,180.8 561.6,180.6 563.1,180.4 564.6,180.3 566.1,180.1 567.6,179.9 569.1,179.7 570.6,179.5 572.1,179.3 573.6,179.0 575.1,178.8 576.6,178.6 578.1,178.4 579.5,178.2 581.0,177.9 582.5,177.7 584.0,177.5 585.5,177.3 587.0,177.1 588.5,176.9 590.0,176.7 591.5,176.5 593.0,176.3 594.5,176.1 596.0,176.0 597.5,175.8 599.0,175.6 600.5,175.5 602.0,175.3 603.5,175.2 605.0,175.1 606.5,174.9 608.0,174.8 609.5,174.7 611.0,174.6 612.5,174.5 614.0,174.4 615.5,174.3 617.0,174.2 618.5,174.1 620.0,174.1 621.5,174.0 623.0,173.9 624.5,173.9 626.0,173.9 627.5,173.8 629.0,173.8 630.5,173.8 632.0,173.8 633.5,173.8 635.1,173.8 636.6,173.8 638.1,173.9 639.6,173.9 641.1,174.0 642.6,174.0 644.1,174.1 645.6,174.2 647.1,174.2 648.6,174.3 650.1,174.5 651.6,174.6 653.1,174.7 654.6,174.8 656.1,175.0 657.6,175.1 659.1,175.3 L659.1,175.3 659.0,176.8 659.0,178.3 658.9,179.8 658.9,181.3 658.8,182.8 658.7,184.3 658.6,185.8 658.5,187.3 658.4,188.8 658.2,190.3 658.1,191.8 658.0,193.3 657.8,194.8 657.7,196.3 657.5,197.8 657.3,199.3 657.1,200.8 656.9,202.3 656.7,203.8 656.5,205.3 656.3,206.8 656.0,208.2 655.8,209.7 655.5,211.2 655.2,212.7 655.0,214.2 654.7,215.6 654.3,217.1 654.0,218.6 653.7,220.0 653.3,221.5 652.9,223.0 652.5,224.4 652.1,225.8 651.6,227.3 651.2,228.7 650.7,230.1 650.1,231.5 649.6,232.9 649.0,234.3 648.4,235.7 647.8,237.1 647.2,238.4 646.5,239.8 645.8,241.1 645.0,242.4 644.3,243.7 643.4,245.0 642.6,246.2 641.7,247.5 640.8,248.7 639.9,249.8 638.9,251.0 637.9,252.1 636.9,253.2 635.8,254.3 634.7,255.3 633.6,256.3 632.5,257.3 631.4,258.3 630.2,259.3 629.0,260.2 627.8,261.1 626.6,262.0 625.4,262.8 624.1,263.7 622.9,264.5 621.6,265.3 620.3,266.1 619.0,266.9 617.7,267.6 616.4,268.3 615.1,269.0 613.7,269.7 612.4,270.4 611.0,271.1 609.7,271.7 608.3,272.4 606.9,273.0 605.6,273.6 604.2,274.2 602.8,274.8 601.4,275.4 600.0,276.0 598.6,276.6 597.2,277.1 595.8,277.7 594.5,278.2 593.1,278.8 591.6,279.3 590.2,279.9 588.8,280.4 587.4,281.0 586.0,281.5 584.6,282.0 583.2,282.6 581.8,283.1 580.4,283.6 579.0,284.1 577.6,284.7 576.2,285.2 574.8,285.7 573.3,286.2 571.9,286.8 570.5,287.3 569.1,287.8 567.7,288.4 566.3,288.9 564.9,289.4 563.5,289.9 562.1,290.5 560.7,291.0 559.2,291.5 557.8,292.0 556.4,292.5 555.0,293.0 553.6,293.4 552.1,293.9 550.7,294.4 549.2,294.8 547.8,295.2 546.4,295.6 544.9,296.0 543.4,296.4 542.0,296.7 540.5,297.1 539.0,297.4 537.6,297.6 536.1,297.9 534.6,298.1 533.1,298.4 531.6,298.6 530.1,298.8 528.6,299.0 527.1,299.2 525.6,299.3 524.1,299.5 522.6,299.7 521.2,299.9 519.7,300.0 518.2,300.2 516.7,300.4 515.2,300.5 513.7,300.7 512.2,300.9 510.7,301.1 509.2,301.3 507.7,301.6 506.2,301.8 504.8,302.1 503.3,302.4 501.8,302.7 500.3,303.0 498.9,303.4 497.4,303.8 496.0,304.2 494.5,304.6 493.1,305.1 491.7,305.6 490.3,306.1 488.9,306.7 487.5,307.3 486.2,307.9 484.8,308.6 483.5,309.3 482.2,310.0 480.9,310.8 479.6,311.6 478.3,312.5 477.1,313.3 475.9,314.2 474.7,315.2 473.6,316.1 472.5,317.1 471.4,318.2 470.3,319.2 469.2,320.3 468.2,321.4 467.2,322.5 466.2,323.6 465.2,324.7 464.2,325.9 463.2,327.0 462.3,328.2 461.3,329.4 460.4,330.5 459.5,331.7 458.5,332.9 457.6,334.1 456.7,335.3 455.8,336.5 455.0,337.8 454.1,339.0 453.2,340.2 452.3,341.4 451.5,342.7 450.6,343.9 449.8,345.2 449.0,346.4 448.1,347.7 447.3,348.9 446.5,350.2 445.7,351.5 444.9,352.7 444.0,354.0 443.2,355.3 442.4,356.5 441.6,357.8 440.8,359.1 440.0,360.3 439.2,361.6 438.4,362.9 437.6,364.2 436.8,365.4 436.0,366.7 435.2,368.0 434.4,369.3 433.6,370.5 432.8,371.8 432.0,373.1 431.2,374.3 430.4,375.6 429.6,376.9 428.7,378.1 427.9,379.4 427.1,380.6 426.2,381.9 425.4,383.1 424.5,384.4 423.6,385.6 422.8,386.8 421.8,388.0 420.9,389.2 419.9,390.3 418.9,391.4 417.9,392.5 416.8,393.6 415.7,394.6 414.6,395.6 413.4,396.5 412.2,397.4 410.9,398.3 409.6,399.0 408.3,399.7 406.9,400.3 405.5,400.9 404.1,401.3 402.6,401.6 401.1,401.8 399.6,401.9 398.1,401.9 396.6,401.8 395.1,401.5 393.7,401.2 392.2,400.8 390.8,400.4 389.4,399.9 388.0,399.3 386.6,398.8 385.2,398.2 383.8,397.5 382.5,396.8 381.1,396.1 379.8,395.4 378.5,394.7 377.3,393.9 376.0,393.1 374.7,392.2 373.5,391.4 372.2,390.5 371.0,389.6 369.8,388.7 368.6,387.8 367.4,386.9 366.2,386.0 365.0,385.1 363.8,384.2 362.7,383.3 361.4,382.4 360.2,381.5 359.0,380.6 357.7,379.8 356.5,378.9 355.2,378.1 353.9,377.4 352.6,376.6 351.3,375.8 350.0,375.1 348.7,374.4 347.4,373.6 346.1,372.9 344.7,372.2 343.4,371.5 342.1,370.8 340.7,370.2 339.4,369.5 338.0,368.8 336.7,368.1 335.3,367.5 334.0,366.8 332.6,366.2 331.3,365.5 329.9,364.9 328.6,364.2 327.2,363.6 325.8,362.9 324.5,362.3 323.1,361.7 321.7,361.0 320.4,360.4 319.0,359.8 317.6,359.2 316.2,358.6 314.9,358.0 313.5,357.4 312.1,356.8 310.7,356.2 309.3,355.6 307.9,355.1 306.5,354.5 305.1,354.0 303.7,353.4 302.3,352.9 300.9,352.3 299.5,351.8 298.1,351.3 296.7,350.8 295.3,350.3 293.8,349.8 292.4,349.3 291.0,348.8 289.6,348.3 288.1,347.8 286.7,347.4 285.3,346.9 283.8,346.5 282.4,346.0 281.0,345.6 279.5,345.2 278.1,344.8 276.6,344.4 275.2,344.0 273.7,343.6 272.2,343.2 270.8,342.9 269.3,342.5 267.9,342.2 266.4,341.8 264.9,341.5 263.4,341.2 262.0,340.9 260.5,340.6 259.0,340.3 257.6,340.0 256.1,339.7 254.6,339.4 253.1,339.1 251.6,338.9 250.2,338.6 248.7,338.3 247.2,338.1 245.7,337.8 244.2,337.6 242.7,337.4 241.2,337.2 239.8,336.9 238.3,336.7 236.8,336.5 235.3,336.3 233.8,336.1 232.3,335.9 230.8,335.7 229.3,335.5 227.8,335.3 226.3,335.2 224.8,335.0 223.3,334.8 221.8,334.6 220.3,334.5 218.9,334.3 217.4,334.2 215.9,334.0 214.4,333.9 212.9,333.7 211.4,333.6 209.9,333.4 208.4,333.3 206.9,333.1 205.4,333.0 203.9,332.8 202.4,332.7 200.9,332.6 199.4,332.4 197.9,332.3 196.4,332.2 194.9,332.0 193.4,331.9 191.9,331.8 190.4,331.6 188.9,331.5 187.4,331.4 185.9,331.3 184.4,331.1 182.9,331.0 181.4,330.9 179.9,330.7 178.4,330.6 176.9,330.5 175.4,330.3 173.9,330.2"/>
<path stroke="#ff00ff" d="M174.0,306.3 174.8,305.0 175.8,303.9 177.0,303.1 178.4,302.4 179.8,302.0 181.3,301.7 182.8,301.5 184.3,301.4 185.8,301.4 187.3,301.4 188.8,301.4 190.3,301.4 191.8,301.4 193.4,301.3 194.9,301.3 196.4,301.2 197.9,301.1 199.4,301.0 200.9,300.9 202.4,300.8 203.9,300.7 205.4,300.5 206.9,300.4 208.4,300.2 209.9,300.1 211.4,299.9 212.8,299.7 214.3,299.6 215.8,299.4 217.3,299.2 218.8,299.1 220.3,298.9 221.8,298.8 223.3,298.6 224.8,298.5 226.3,298.4 227.8,298.2 229.3,298.1 230.8,298.0 232.3,297.9 233.8,297.8 235.3,297.7 236.8,297.6 238.3,297.5 239.8,297.4 241.3,297.3 242.8,297.2 244.3,297.1 245.8,297.0 247.3,296.9 248.9,296.9 250.4,296.8 251.9,296.7 253.4,296.6 254.9,296.6 256.4,296.5 257.9,296.4 259.4,296.4 260.9,296.3 262.4,296.3 263.9,296.2 265.4,296.1 266.9,296.1 268.4,296.0 269.9,296.0 271.4,295.9 272.9,295.9 274.4,295.8 275.9,295.7 277.4,295.7 278.9,295.6 280.4,295.6 281.9,295.5 283.4,295.5 284.9,295.4 286.5,295.3 288.0,295.3 289.5,295.2 291.0,295.1 292.5,295.1 294.0,295.0 295.5,294.9 297.0,294.9 298.5,294.8 300.0,294.7 301.5,294.6 303.0,294.5 304.5,294.4 306.0,294.4 307.5,294.3 309.0,294.2 310.5,294.1 312.0,293.9 313.5,293.8 315.0,293.7 316.5,293.6 318.0,293.5 319.5,293.4 321.0,293.2 322.5,293.1 324.0,292.9 325.5,292.8 327.0,292.6 328.5,292.5 330.0,292.3 331.5,292.1 333.0,292.0 334.5,291.8 336.0,291.6 337.5,291.4 338.9,291.2 340.4,290.9 341.9,290.7 343.4,290.5 344.9,290.2 346.4,290.0 347.9,289.7 349.3,289.4 350.8,289.1 352.3,288.8 353.7,288.5 355.2,288.1 356.7,287.8 358.1,287.4 359.6,287.0 361.0,286.6 362.5,286.2 363.9,285.7 365.4,285.3 366.8,284.8 368.2,284.3 369.6,283.8 371.0,283.3 372.4,282.7 373.8,282.2 375.2,281.6 376.6,280.9 377.9,280.3 379.3,279.6 380.6,278.9 381.9,278.2 383.2,277.4 384.5,276.6 385.7,275.7 386.9,274.8 388.1,273.9 389.2,272.9 390.3,271.9 391.4,270.8 392.4,269.7 393.4,268.6 394.4,267.4 395.3,266.3 396.3,265.1 397.2,263.8 398.0,262.6 398.9,261.4 399.7,260.1 400.6,258.9 401.4,257.6 402.2,256.4 403.0,255.1 403.8,253.8 404.6,252.6 405.4,251.3 406.2,250.0 406.9,248.7 407.7,247.4 408.4,246.1 409.1,244.7 409.8,243.4 410.5,242.0 411.2,240.7 411.8,239.3 412.4,238.0 413.0,236.6 413.6,235.2 414.2,233.8 414.7,232.4 415.3,231.0 415.8,229.6 416.3,228.2 416.8,226.8 417.3,225.3 417.8,223.9 418.3,222.5 418.8,221.1 419.3,219.7 419.8,218.2 420.3,216.8 420.8,215.4 421.3,214.0 421.8,212.5 422.3,211.1 422.8,209.7 423.3,208.3 423.8,206.9 424.3,205.5 424.8,204.0 425.4,202.6 425.9,201.2 426.4,199.8 427.0,198.4 427.5,197.0 428.0,195.6 428.6,194.2 429.1,192.8 429.6,191.4 430.2,190.0 430.7,188.6 431.3,187.2 431.8,185.8 432.3,184.4 432.9,183.0 433.4,181.5 434.0,180.1 434.5,178.7 435.1,177.3 435.6,175.9 436.1,174.5 436.7,173.1 437.2,171.7 437.8,170.3 438.3,168.9 438.8,167.5 439.4,166.1 439.9,164.7 440.4,163.3 441.0,161.9 441.5,160.5 442.0,159.1 442.5,157.6 443.1,156.2 443.6,154.8 444.1,153.4 444.6,152.0 445.1,150.6 445.6,149.1 446.1,147.7 446.6,146.3 447.1,144.9 447.7,143.5 448.2,142.1 448.8,140.7 449.3,139.3 450.0,137.9 450.6,136.6 451.3,135.2 452.0,133.9 452.7,132.6 453.5,131.3 454.3,130.0 455.2,128.8 456.1,127.6 457.0,126.4 458.0,125.3 459.0,124.2 460.1,123.1 461.3,122.2 462.5,121.3 463.8,120.5 465.1,119.8 466.5,119.3 468.0,119.0 469.5,118.8 471.0,118.7 472.5,118.8 474.0,118.9 475.5,119.2 476.9,119.5 478.4,119.9 479.8,120.4 481.2,120.9 482.6,121.5 484.0,122.1 485.3,122.8 486.7,123.5 488.0,124.2 489.3,125.0 490.6,125.7 491.9,126.5 493.2,127.2 494.5,127.9 495.8,128.7 497.2,129.4 498.5,130.1 499.9,130.7 501.2,131.4 502.6,132.0 503.9,132.7 505.3,133.3 506.7,133.9 508.1,134.4 509.5,135.0 510.9,135.5 512.3,136.0 513.8,136.5 515.2,137.0 516.6,137.4 518.1,137.8 519.5,138.2 521.0,138.6 522.4,139.0 523.9,139.3 525.4,139.7 526.8,140.0 528.3,140.2 529.8,140.5 531.3,140.7 532.8,140.9 534.3,141.1 535.8,141.3 537.3,141.5 538.8,141.6 540.3,141.7 541.8,141.8 543.3,141.9 544.8,142.0 546.3,142.0 547.8,142.0 549.3,142.1 550.8,142.1 552.3,142.0 553.8,142.0 555.3,142.0 556.8,141.9 558.3,141.9 559.8,141.8 561.3,141.7 562.8,141.6 564.3,141.5 565.8,141.4 567.3,141.3 568.8,141.2 570.3,141.0 571.8,140.9 573.3,140.7 574.8,140.5 576.3,140.4 577.8,140.2 579.3,140.0 580.8,139.9 582.3,139.7 583.8,139.5 585.3,139.3 586.8,139.1 588.3,138.9 589.8,138.7 591.3,138.5 592.7,138.3 594.2,138.1 595.7,137.9 597.2,137.7 598.7,137.6 600.2,137.4 601.7,137.2 603.2,137.0 604.7,136.8 606.2,136.7 607.7,136.5 609.2,136.3 610.7,136.2 612.2,136.0 613.7,135.9 615.2,135.8 616.7,135.7 618.2,135.6 619.7,135.5 621.2,135.4 622.7,135.3 624.2,135.2 625.7,135.2 627.2,135.2 628.7,135.1 630.2,135.1 631.7,135.1 633.2,135.1 634.7,135.2 636.2,135.2 637.7,135.2 639.2,135.3 640.7,135.3 642.3,135.4 643.8,135.4 645.3,135.5 646.8,135.5 648.3,135.5 649.8,135.5 651.3,135.5 652.8,135.5 654.3,135.5 655.8,135.5 657.3,135.4 658.8,135.3 L658.8,135.3 658.9,136.8 659.0,138.3 659.0,139.8 659.0,141.3 659.0,142.8 659.0,144.3 658.9,145.8 658.8,147.3 658.7,148.8 658.6,150.3 658.4,151.8 658.3,153.3 658.2,154.8 658.0,156.3 657.9,157.8 657.8,159.3 657.6,160.8 657.5,162.3 657.4,163.8 657.3,165.3 657.2,166.8 657.1,168.3 657.0,169.8 657.0,171.3 656.9,172.8 656.8,174.3 656.7,175.8 656.6,177.3 656.5,178.8 656.4,180.3 656.2,181.8 656.1,183.3 655.9,184.8 655.8,186.3 655.6,187.8 655.4,189.3 655.2,190.8 655.0,192.3 654.7,193.8 654.5,195.3 654.2,196.7 653.9,198.2 653.6,199.7 653.3,201.2 653.0,202.6 652.7,204.1 652.3,205.6 652.0,207.0 651.6,208.5 651.3,210.0 650.9,211.4 650.5,212.9 650.1,214.3 649.7,215.8 649.2,217.2 648.8,218.6 648.4,220.1 647.9,221.5 647.5,223.0 647.0,224.4 646.5,225.8 646.1,227.2 645.6,228.7 645.0,230.1 644.5,231.5 644.0,232.9 643.4,234.3 642.8,235.7 642.2,237.0 641.5,238.4 640.8,239.7 640.1,241.0 639.3,242.3 638.5,243.6 637.6,244.8 636.8,246.1 635.9,247.3 634.9,248.4 634.0,249.6 633.0,250.7 631.9,251.8 630.9,252.9 629.8,254.0 628.8,255.0 627.6,256.0 626.5,257.0 625.4,258.0 624.2,259.0 623.1,259.9 621.9,260.9 620.7,261.8 619.5,262.7 618.2,263.5 617.0,264.4 615.8,265.3 614.5,266.1 613.3,266.9 612.0,267.7 610.7,268.5 609.4,269.3 608.1,270.1 606.9,270.9 605.6,271.6 604.2,272.4 602.9,273.1 601.6,273.8 600.3,274.6 599.0,275.3 597.7,276.0 596.3,276.7 595.0,277.4 593.7,278.1 592.3,278.8 591.0,279.5 589.7,280.2 588.3,280.9 587.0,281.6 585.7,282.3 584.3,283.0 583.0,283.7 581.7,284.4 580.3,285.1 579.0,285.8 577.7,286.5 576.3,287.2 575.0,287.9 573.7,288.6 572.3,289.3 571.0,290.0 569.7,290.6 568.3,291.3 567.0,292.0 565.6,292.7 564.3,293.3 562.9,294.0 561.6,294.6 560.2,295.3 558.8,295.9 557.5,296.6 556.1,297.2 554.7,297.8 553.4,298.4 552.0,299.1 550.6,299.6 549.2,300.2 547.8,300.8 546.4,301.4 545.0,301.9 543.6,302.5 542.2,303.0 540.8,303.5 539.4,304.0 538.0,304.5 536.6,305.0 535.1,305.5 533.7,305.9 532.3,306.4 530.8,306.8 529.4,307.2 527.9,307.6 526.5,308.0 525.0,308.3 523.5,308.7 522.1,309.0 520.6,309.3 519.1,309.6 517.6,309.9 516.1,310.1 514.7,310.4 513.2,310.6 511.7,310.9 510.2,311.1 508.7,311.3 507.2,311.6 505.7,311.8 504.3,312.0 502.8,312.3 501.3,312.6 499.8,312.9 498.4,313.2 496.9,313.5 495.4,313.9 494.0,314.3 492.5,314.7 491.1,315.2 489.7,315.7 488.3,316.3 486.9,316.9 485.6,317.5 484.2,318.2 482.9,319.0 481.7,319.8 480.4,320.6 479.2,321.5 478.0,322.4 476.8,323.4 475.7,324.4 474.6,325.4 473.5,326.4 472.4,327.5 471.4,328.6 470.4,329.7 469.4,330.8 468.4,331.9 467.4,333.1 466.5,334.3 465.5,335.4 464.6,336.6 463.7,337.8 462.8,339.0 461.9,340.3 461.1,341.5 460.2,342.7 459.4,344.0 458.5,345.2 457.7,346.5 456.8,347.7 456.0,349.0 455.2,350.2 454.4,351.5 453.6,352.8 452.8,354.1 452.0,355.3 451.2,356.6 450.3,357.9 449.5,359.1 448.7,360.4 447.9,361.7 447.1,362.9 446.3,364.2 445.4,365.4 444.6,366.7 443.8,367.9 442.9,369.2 442.1,370.4 441.2,371.7 440.4,372.9 439.6,374.2 438.8,375.4 438.0,376.7 437.3,378.1 436.6,379.4 435.9,380.8 435.3,382.1 434.7,383.5 434.1,384.9 433.5,386.3 432.9,387.6 432.3,389.0 431.6,390.4 430.9,391.7 430.2,393.0 429.5,394.3 428.7,395.6 427.9,396.9 427.1,398.2 426.4,399.5 425.6,400.8 424.8,402.0 423.9,403.3 423.1,404.6 422.3,405.8 421.5,407.1 420.6,408.3 419.7,409.5 418.8,410.7 417.9,411.9 416.9,413.1 415.9,414.2 414.9,415.3 413.9,416.4 412.8,417.4 411.6,418.4 410.5,419.4 409.3,420.3 408.1,421.2 406.8,421.9 405.4,422.6 404.0,423.2 402.6,423.6 401.1,423.9 399.6,424.1 398.1,424.2 396.6,424.2 395.1,424.1 393.6,423.9 392.2,423.6 390.7,423.2 389.3,422.8 387.8,422.3 386.4,421.8 385.0,421.2 383.7,420.6 382.3,419.9 381.0,419.2 379.7,418.5 378.4,417.7 377.1,416.9 375.8,416.1 374.6,415.2 373.4,414.4 372.1,413.5 370.9,412.6 369.7,411.7 368.5,410.8 367.3,409.9 366.1,408.9 365.0,408.0 363.8,407.1 362.6,406.2 361.3,405.3 360.1,404.4 358.9,403.6 357.7,402.7 356.4,401.9 355.2,401.0 353.9,400.2 352.7,399.3 351.5,398.5 350.2,397.6 349.0,396.7 347.8,395.8 346.6,395.0 345.4,394.0 344.2,393.1 343.0,392.2 341.8,391.2 340.7,390.2 339.5,389.3 338.4,388.3 337.2,387.4 336.1,386.4 334.9,385.5 333.7,384.5 332.5,383.6 331.3,382.8 330.0,381.9 328.8,381.1 327.5,380.3 326.2,379.5 324.9,378.8 323.5,378.1 322.2,377.4 320.9,376.7 319.5,376.1 318.1,375.4 316.8,374.8 315.4,374.2 314.0,373.6 312.7,373.0 311.3,372.4 309.9,371.8 308.5,371.2 307.1,370.6 305.7,370.1 304.3,369.5 302.9,369.0 301.5,368.5 300.1,367.9 298.7,367.4 297.3,366.9 295.8,366.4 294.4,365.9 293.0,365.4 291.6,364.9 290.1,364.4 288.7,364.0 287.3,363.5 285.9,363.0 284.4,362.6 283.0,362.1 281.6,361.7 280.1,361.2 278.7,360.8 277.2,360.4 275.8,359.9 274.3,359.5 272.9,359.1 271.5,358.7 270.0,358.3 268.6,357.9 267.1,357.5 265.7,357.1 264.2,356.7 262.7,356.3 261.3,355.9 259.8,355.6 258.4,355.2 256.9,354.8 255.4,354.5 254.0,354.1 252.5,353.8 251.1,353.4 249.6,353.1 248.1,352.7 246.7,352.4 245.2,352.1 243.7,351.7 242.3,351.4 240.8,351.1 239.3,350.8 237.8,350.5 236.4,350.2 234.9,349.9 233.4,349.6 231.9,349.3 230.5,349.0 229.0,348.7 227.5,348.5 226.0,348.2 224.5,347.9 223.1,347.6 221.6,347.4 220.1,347.1 218.6,346.9 217.1,346.6 215.6,346.4 214.2,346.1 212.7,345.9 211.2,345.6 209.7,345.4 208.2,345.2 206.7,344.9 205.2,344.7 203.8,344.5 202.3,344.3 200.8,344.1 199.3,343.8 197.8,343.6 196.3,343.4 194.8,343.2 193.3,343.0 191.8,342.8 190.3,342.6 188.8,342.5 187.4,342.3 185.9,342.1 184.4,341.9 182.9,341.7 181.4,341.5 179.9,341.4 178.4,341.2 176.9,341.0 175.4,340.9 173.9,340.7"/>
<path stroke="#808000" d="M174.0,306.3 174.3,304.8 175.0,303.5 175.9,302.3 177.0,301.3 178.4,300.6 179.8,300.1 181.2,299.7 182.7,299.4 184.2,299.1 185.7,298.9 187.2,298.7 188.7,298.5 190.2,298.3 191.7,298.2 193.2,298.1 194.7,298.0 196.2,297.9 197.7,297.9 199.2,297.8 200.7,297.7 202.2,297.6 203.7,297.5 205.2,297.4 206.7,297.4 208.2,297.3 209.7,297.2 211.2,297.1 212.7,297.0 214.2,296.9 215.7,296.8 217.2,296.6 218.7,296.5 220.2,296.4 221.7,296.3 223.2,296.2 224.7,296.1 226.3,296.0 227.8,295.9 229.3,295.7 230.8,295.6 232.3,295.5 233.8,295.4 235.3,295.3 236.8,295.2 238.3,295.1 239.8,295.0 241.3,294.9 242.8,294.7 244.3,294.6 245.8,294.5 247.3,294.5 248.8,294.4 250.3,294.3 251.8,294.2 253.3,294.1 254.8,294.0 256.3,293.9 257.8,293.9 259.3,293.8 260.8,293.7 262.3,293.7 263.8,293.6 265.4,293.5 266.9,293.5 268.4,293.4 269.9,293.3 271.4,293.3 272.9,293.2 274.4,293.2 275.9,293.1 277.4,293.1 278.9,293.0 280.4,293.0 281.9,292.9 283.4,292.8 284.9,292.8 286.4,292.7 287.9,292.7 289.4,292.6 291.0,292.6 292.5,292.5 294.0,292.5 295.5,292.4 297.0,292.3 298.5,292.3 300.0,292.2 301.5,292.2 303.0,292.1 304.5,292.0 306.0,291.9 307.5,291.9 309.0,291.8 310.5,291.7 312.0,291.6 313.5,291.6 315.0,291.5 316.5,291.4 318.0,291.3 319.6,291.2 321.1,291.1 322.6,291.0 324.1,290.9 325.6,290.8 327.1,290.6 328.6,290.5 330.1,290.4 331.6,290.3 333.1,290.1 334.6,290.0 336.1,289.8 337.6,289.6 339.1,289.4 340.5,289.1 342.0,288.9 343.5,288.6 345.0,288.2 346.4,287.9 347.9,287.5 349.4,287.2 350.8,286.8 352.3,286.4 353.7,286.0 355.2,285.6 356.6,285.2 358.1,284.8 359.5,284.4 361.0,284.0 362.4,283.6 363.9,283.1 365.3,282.7 366.7,282.2 368.2,281.7 369.6,281.1 370.9,280.5 372.3,279.9 373.7,279.2 375.0,278.5 376.3,277.7 377.6,277.0 378.9,276.2 380.1,275.3 381.3,274.4 382.5,273.5 383.7,272.6 384.9,271.6 386.0,270.6 387.1,269.6 388.2,268.6 389.3,267.5 390.3,266.5 391.4,265.4 392.4,264.2 393.4,263.1 394.3,261.9 395.3,260.8 396.2,259.6 397.1,258.4 398.0,257.2 398.9,255.9 399.7,254.7 400.6,253.4 401.4,252.2 402.2,250.9 402.9,249.6 403.7,248.3 404.4,247.0 405.2,245.7 405.9,244.3 406.6,243.0 407.3,241.6 407.9,240.3 408.6,238.9 409.2,237.6 409.8,236.2 410.4,234.8 411.0,233.4 411.6,232.0 412.2,230.7 412.8,229.3 413.3,227.9 413.9,226.5 414.4,225.1 415.0,223.6 415.5,222.2 416.0,220.8 416.5,219.4 417.1,218.0 417.6,216.6 418.1,215.1 418.6,213.7 419.1,212.3 419.6,210.9 420.0,209.5 420.5,208.0 421.0,206.6 421.5,205.2 422.0,203.8 422.5,202.3 422.9,200.9 423.4,199.5 423.9,198.0 424.4,196.6 424.8,195.2 425.3,193.7 425.8,192.3 426.2,190.9 426.7,189.4 427.2,188.0 427.6,186.6 428.1,185.1 428.5,183.7 429.0,182.3 429.4,180.8 429.9,179.4 430.3,177.9 430.8,176.5 431.2,175.1 431.7,173.6 432.1,172.2 432.6,170.7 433.0,169.3 433.5,167.9 433.9,166.4 434.3,165.0 434.8,163.5 435.2,162.1 435.7,160.7 436.1,159.2 436.6,157.8 437.0,156.3 437.5,154.9 437.9,153.5 438.3,152.0 438.8,150.6 439.2,149.1 439.7,147.7 440.1,146.3 440.6,144.8 441.0,143.4 441.5,141.9 441.9,140.5 442.4,139.1 442.8,137.6 443.3,136.2 443.7,134.8 444.2,133.3 444.6,131.9 445.1,130.5 445.6,129.0 446.1,127.6 446.5,126.2 447.0,124.7 447.6,123.3 448.1,121.9 448.7,120.5 449.3,119.1 449.9,117.8 450.5,116.4 451.1,115.0 451.8,113.7 452.5,112.3 453.1,111.0 453.8,109.6 454.5,108.3 455.1,106.9 455.8,105.5 456.4,104.2 457.1,102.9 457.9,101.5 458.6,100.2 459.4,99.0 460.3,97.7 461.2,96.5 462.2,95.4 463.2,94.3 464.2,93.2 465.4,92.2 466.5,91.2 467.8,90.4 469.0,89.6 470.4,88.9 471.8,88.3 473.2,87.9 474.7,87.6 476.2,87.4 477.7,87.4 479.2,87.6 480.7,87.9 482.1,88.3 483.6,88.7 485.0,89.2 486.4,89.8 487.8,90.4 489.1,91.0 490.5,91.7 491.8,92.3 493.2,93.0 494.6,93.7 495.9,94.3 497.3,94.9 498.6,95.6 500.0,96.2 501.4,96.8 502.8,97.3 504.2,97.9 505.6,98.4 507.0,98.9 508.5,99.4 509.9,99.9 511.3,100.4 512.8,100.8 514.2,101.2 515.7,101.6 517.1,102.0 518.6,102.4 520.0,102.8 521.5,103.1 523.0,103.4 524.5,103.7 525.9,104.0 527.4,104.3 528.9,104.5 530.4,104.8 531.9,105.0 533.4,105.2 534.9,105.4 536.4,105.5 537.9,105.7 539.4,105.8 540.9,105.9 542.4,106.1 543.9,106.1 545.4,106.2 546.9,106.3 548.4,106.3 549.9,106.4 551.4,106.4 552.9,106.4 554.4,106.4 555.9,106.4 557.4,106.3 558.9,106.3 560.5,106.2 562.0,106.1 563.5,106.0 565.0,105.9 566.5,105.8 568.0,105.7 569.5,105.6 571.0,105.4 572.5,105.3 574.0,105.1 575.5,104.9 577.0,104.7 578.4,104.5 579.9,104.3 581.4,104.1 582.9,103.8 584.4,103.6 585.9,103.3 587.4,103.1 588.9,102.8 590.3,102.5 591.8,102.3 593.3,102.0 594.8,101.7 596.3,101.4 597.8,101.2 599.2,100.9 600.7,100.6 602.2,100.3 603.7,100.1 605.2,99.8 606.6,99.6 608.1,99.3 609.6,99.1 611.1,98.8 612.6,98.6 614.1,98.4 615.6,98.2 617.1,98.0 618.6,97.8 620.1,97.6 621.6,97.5 623.1,97.3 624.6,97.2 626.1,97.0 627.6,96.9 629.1,96.8 630.6,96.6 632.1,96.5 633.6,96.4 635.1,96.3 636.6,96.2 638.1,96.1 639.6,96.0 641.1,95.9 642.6,95.7 644.1,95.6 645.6,95.5 647.1,95.4 648.6,95.3 650.1,95.1 651.6,95.0 653.1,94.9 654.6,94.7 656.1,94.5 657.6,94.4 659.1,94.2 L659.1,94.2 659.0,95.7 659.0,97.2 658.9,98.7 658.9,100.2 658.8,101.7 658.8,103.2 658.7,104.7 658.7,106.2 658.6,107.7 658.6,109.2 658.5,110.8 658.5,112.3 658.4,113.8 658.4,115.3 658.3,116.8 658.3,118.3 658.2,119.8 658.1,121.3 658.1,122.8 658.0,124.3 658.0,125.8 657.9,127.3 657.8,128.8 657.8,130.3 657.7,131.8 657.6,133.3 657.6,134.8 657.5,136.3 657.4,137.8 657.3,139.3 657.2,140.8 657.2,142.3 657.1,143.9 657.0,145.4 656.9,146.9 656.8,148.4 656.7,149.9 656.6,151.4 656.5,152.9 656.3,154.4 656.2,155.9 656.1,157.4 656.0,158.9 655.8,160.4 655.7,161.9 655.5,163.4 655.4,164.9 655.2,166.4 655.1,167.9 654.9,169.4 654.7,170.9 654.5,172.3 654.3,173.8 654.2,175.3 654.0,176.8 653.7,178.3 653.5,179.8 653.3,181.3 653.1,182.8 652.9,184.3 652.6,185.8 652.4,187.2 652.1,188.7 651.8,190.2 651.6,191.7 651.3,193.2 651.0,194.6 650.7,196.1 650.4,197.6 650.1,199.1 649.8,200.5 649.4,202.0 649.1,203.5 648.8,205.0 648.4,206.4 648.0,207.9 647.7,209.3 647.3,210.8 646.9,212.3 646.5,213.7 646.1,215.2 645.7,216.6 645.3,218.1 644.9,219.5 644.5,220.9 644.0,222.4 643.6,223.8 643.1,225.3 642.6,226.7 642.1,228.1 641.6,229.5 641.1,230.9 640.5,232.3 640.0,233.7 639.3,235.1 638.7,236.5 638.0,237.8 637.3,239.1 636.6,240.4 635.8,241.7 635.0,243.0 634.1,244.2 633.3,245.5 632.3,246.7 631.4,247.8 630.4,249.0 629.5,250.1 628.5,251.3 627.4,252.4 626.4,253.4 625.3,254.5 624.3,255.6 623.2,256.6 622.1,257.7 621.0,258.7 619.9,259.7 618.7,260.7 617.6,261.7 616.5,262.7 615.4,263.7 614.2,264.7 613.1,265.7 611.9,266.6 610.8,267.6 609.6,268.5 608.4,269.5 607.2,270.4 606.0,271.3 604.8,272.2 603.6,273.0 602.3,273.9 601.1,274.8 599.8,275.6 598.6,276.4 597.3,277.2 596.0,278.0 594.8,278.8 593.5,279.6 592.2,280.4 590.9,281.2 589.6,282.0 588.3,282.8 587.1,283.6 585.8,284.3 584.5,285.1 583.2,285.9 581.9,286.7 580.6,287.5 579.4,288.3 578.1,289.1 576.8,289.9 575.5,290.7 574.2,291.5 573.0,292.3 571.7,293.1 570.4,293.9 569.1,294.7 567.9,295.5 566.6,296.3 565.3,297.1 564.0,297.9 562.8,298.7 561.5,299.5 560.2,300.3 559.0,301.1 557.7,301.9 556.4,302.7 555.1,303.5 553.9,304.3 552.6,305.2 551.3,306.0 550.1,306.8 548.8,307.5 547.5,308.3 546.2,309.1 544.9,309.8 543.6,310.6 542.2,311.3 540.9,312.0 539.5,312.6 538.2,313.3 536.8,313.9 535.4,314.5 534.0,315.0 532.6,315.6 531.2,316.1 529.8,316.6 528.3,317.0 526.9,317.5 525.5,317.9 524.0,318.3 522.5,318.7 521.1,319.0 519.6,319.4 518.2,319.7 516.7,320.0 515.2,320.3 513.7,320.6 512.2,320.9 510.8,321.2 509.3,321.4 507.8,321.7 506.3,321.9 504.8,322.1 503.3,322.4 501.8,322.6 500.4,322.8 498.9,323.1 497.4,323.4 495.9,323.7 494.5,324.1 493.0,324.5 491.6,325.0 490.2,325.6 488.8,326.2 487.5,326.8 486.1,327.5 484.8,328.3 483.5,329.1 482.3,329.9 481.1,330.8 479.9,331.7 478.7,332.7 477.6,333.6 476.5,334.7 475.4,335.7 474.4,336.8 473.4,337.9 472.4,339.1 471.4,340.2 470.4,341.4 469.5,342.5 468.5,343.7 467.5,344.8 466.6,346.0 465.6,347.1 464.6,348.3 463.6,349.4 462.6,350.6 461.7,351.7 460.7,352.9 459.8,354.1 458.8,355.3 457.9,356.4 457.0,357.7 456.2,358.9 455.3,360.1 454.4,361.3 453.6,362.6 452.7,363.8 451.9,365.1 451.1,366.4 450.3,367.6 449.5,368.9 448.8,370.2 448.0,371.5 447.3,372.9 446.6,374.2 445.9,375.5 445.2,376.9 444.6,378.2 444.0,379.6 443.4,381.0 442.8,382.4 442.2,383.8 441.6,385.1 441.0,386.5 440.4,387.9 439.9,389.3 439.3,390.7 438.7,392.1 438.1,393.5 437.5,394.9 437.0,396.3 436.4,397.6 435.7,399.0 435.1,400.4 434.5,401.8 433.8,403.1 433.1,404.5 432.5,405.8 431.7,407.1 431.0,408.4 430.3,409.8 429.5,411.1 428.8,412.4 428.0,413.7 427.2,415.0 426.4,416.2 425.6,417.5 424.8,418.8 424.0,420.0 423.2,421.3 422.4,422.6 421.5,423.8 420.7,425.1 419.9,426.3 419.0,427.6 418.2,428.8 417.3,430.0 416.4,431.2 415.4,432.4 414.5,433.6 413.4,434.7 412.4,435.7 411.2,436.7 410.1,437.7 408.9,438.6 407.6,439.4 406.3,440.2 405.0,440.9 403.6,441.5 402.2,442.0 400.7,442.4 399.3,442.8 397.8,443.0 396.3,443.1 394.8,443.1 393.3,443.0 391.8,442.9 390.3,442.6 388.8,442.2 387.4,441.7 386.0,441.2 384.6,440.6 383.3,439.9 382.0,439.2 380.7,438.5 379.4,437.6 378.1,436.8 376.9,435.9 375.7,435.0 374.5,434.1 373.3,433.2 372.2,432.2 371.0,431.3 369.8,430.3 368.7,429.4 367.5,428.4 366.3,427.4 365.2,426.5 364.0,425.5 362.9,424.6 361.7,423.6 360.5,422.7 359.4,421.7 358.2,420.7 357.0,419.8 355.9,418.8 354.7,417.9 353.5,417.0 352.4,416.0 351.2,415.1 350.0,414.1 348.8,413.2 347.6,412.3 346.4,411.4 345.2,410.5 344.0,409.6 342.8,408.7 341.6,407.8 340.4,406.9 339.2,406.0 337.9,405.1 336.7,404.3 335.5,403.4 334.2,402.6 333.0,401.7 331.7,400.9 330.5,400.1 329.2,399.2 327.9,398.4 326.7,397.6 325.4,396.8 324.1,396.0 322.8,395.3 321.5,394.5 320.2,393.7 318.9,392.9 317.6,392.2 316.3,391.5 315.0,390.7 313.7,390.0 312.4,389.3 311.0,388.5 309.7,387.8 308.4,387.1 307.0,386.4 305.7,385.8 304.3,385.1 303.0,384.4 301.6,383.7 300.3,383.1 298.9,382.4 297.6,381.8 296.2,381.1 294.8,380.5 293.5,379.9 292.1,379.3 290.7,378.7 289.3,378.1 287.9,377.5 286.6,376.9 285.2,376.4 283.8,375.8 282.4,375.2 281.0,374.7 279.5,374.2 278.1,373.6 276.7,373.1 275.3,372.6 273.9,372.1 272.5,371.6 271.0,371.2 269.6,370.7 268.2,370.2 266.7,369.8 265.3,369.3 263.8,368.9 262.4,368.5 260.9,368.1 259.5,367.7 258.0,367.3 256.6,366.9 255.1,366.5 253.7,366.1 252.2,365.8 250.8,365.4 249.3,365.0 247.8,364.7 246.4,364.3 244.9,364.0 243.4,363.6 242.0,363.3 240.5,363.0 239.0,362.7 237.6,362.3 236.1,362.0 234.6,361.7 233.1,361.4 231.7,361.1 230.2,360.7 228.7,360.4 227.2,360.1 225.8,359.8 224.3,359.5 222.8,359.2 221.3,358.9 219.9,358.6 218.4,358.3 216.9,358.0 215.4,357.7 214.0,357.4 212.5,357.2 211.0,356.9 209.5,356.6 208.0,356.3 206.6,356.0 205.1,355.8 203.6,355.5 202.1,355.2 200.6,355.0 199.2,354.7 197.7,354.4 196.2,354.2 194.7,353.9 193.2,353.6 191.7,353.4 190.3,353.1 188.8,352.9 187.3,352.6 185.8,352.4 184.3,352.2 182.8,351.9 181.3,351.7 179.9,351.4 178.4,351.2 176.9,351.0 175.4,350.7 173.9,350.5"/>
</g>
<rect x="143.5" y="65.6" width="545.5" height="405" fill="none" stroke="#000" stroke-width="1.6"/>
<path d="M174.0,470.6V462.5 M234.7,470.6V462.5 M295.4,470.6V462.5 M356.1,470.6V462.5 M416.8,470.6V462.5 M477.5,470.6V462.5 M538.2,470.6V462.5 M598.9,470.6V462.5 M659.6,470.6V462.5 M143.5,65.6H151.8 M143.5,102.4H151.8 M143.5,139.2H151.8 M143.5,176.1H151.8 M143.5,212.9H151.8 M143.5,249.7H151.8 M143.5,286.5H151.8 M143.5,323.3H151.8 M143.5,360.2H151.8 M143.5,397.0H151.8 M143.5,433.8H151.8 M143.5,470.6H151.8" stroke="#000" stroke-width="1.5" fill="none"/>
<g font-family="Liberation Sans, Arial, sans-serif" font-size="16" fill="#000" stroke="#000" stroke-width="0.3">
<text x="172.7" y="492.0" text-anchor="middle">-0.2</text>
<text x="233.4" y="492.0" text-anchor="middle">-0.1</text>
<text x="294.1" y="492.0" text-anchor="middle">0.0</text>
<text x="354.8" y="492.0" text-anchor="middle">0.1</text>
<text x="415.5" y="492.0" text-anchor="middle">0.2</text>
<text x="476.2" y="492.0" text-anchor="middle">0.3</text>
<text x="536.9" y="492.0" text-anchor="middle">0.4</text>
<text x="597.6" y="492.0" text-anchor="middle">0.5</text>
<text x="658.3" y="492.0" text-anchor="middle">0.6</text>
<text x="134.6" y="69.7" text-anchor="end">0.12</text>
<text x="134.6" y="106.5" text-anchor="end">0.10</text>
<text x="134.6" y="143.3" text-anchor="end">0.08</text>
<text x="134.6" y="180.2" text-anchor="end">0.06</text>
<text x="134.6" y="217.0" text-anchor="end">0.04</text>
<text x="134.6" y="253.8" text-anchor="end">0.02</text>
<text x="134.6" y="290.6" text-anchor="end">0.00</text>
<text x="134.6" y="327.4" text-anchor="end">-0.02</text>
<text x="134.6" y="364.3" text-anchor="end">-0.04</text>
<text x="134.6" y="401.1" text-anchor="end">-0.06</text>
<text x="134.6" y="437.9" text-anchor="end">-0.08</text>
<text x="134.6" y="474.7" text-anchor="end">-0.10</text>
</g>
<text x="312.9" y="522.1" font-family="Liberation Sans, Arial, sans-serif" font-size="19.3" fill="#000" stroke="#000" stroke-width="0.3">Potential (V vs.Ag/AgCl)</text>
<path d="M187.5,122.2H231.5" stroke="#000000" stroke-width="1.5"/>
<text x="236.5" y="128.7" font-family="Liberation Sans, Arial, sans-serif" font-size="18.5" fill="#000" stroke="#000" stroke-width="0.3">10</text>
<path d="M187.5,145.7H231.5" stroke="#ff0000" stroke-width="1.5"/>
<text x="236.5" y="152.2" font-family="Liberation Sans, Arial, sans-serif" font-size="18.5" fill="#000" stroke="#000" stroke-width="0.3">20</text>
<path d="M187.5,169.2H231.5" stroke="#0000ff" stroke-width="1.5"/>
<text x="236.5" y="175.7" font-family="Liberation Sans, Arial, sans-serif" font-size="18.5" fill="#000" stroke="#000" stroke-width="0.3">50</text>
<path d="M187.5,192.7H231.5" stroke="#008080" stroke-width="1.5"/>
<text x="236.5" y="199.2" font-family="Liberation Sans, Arial, sans-serif" font-size="18.5" fill="#000" stroke="#000" stroke-width="0.3">100</text>
<path d="M187.5,216.2H231.5" stroke="#ff00ff" stroke-width="1.5"/>
<text x="236.5" y="222.7" font-family="Liberation Sans, Arial, sans-serif" font-size="18.5" fill="#000" stroke="#000" stroke-width="0.3">150</text>
<path d="M187.5,239.7H231.5" stroke="#808000" stroke-width="1.5"/>
<text x="236.5" y="246.2" font-family="Liberation Sans, Arial, sans-serif" font-size="18.5" fill="#000" stroke="#000" stroke-width="0.3">200</text>
</svg>
</body></html>
